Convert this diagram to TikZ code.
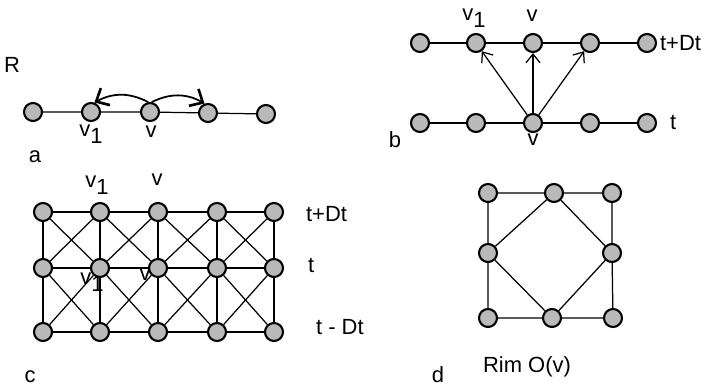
\documentclass[tikz,border=0pt]{standalone}
\usepackage{fontspec}
\setmainfont{Liberation Sans}
\usetikzlibrary{arrows.meta}

\tikzset{
  site/.style={circle,draw,line width=1.2pt,fill=gray!55,minimum size=0.36cm,inner sep=0pt},
  lbl/.style={font=\fontsize{12.5}{14}\selectfont,inner sep=1pt},
  link/.style={line width=0.7pt},
  hop/.style={line width=1pt,-{Straight Barb[length=6pt,width=11pt,line width=1.5pt]}},
}
\newcommand{\vone}{v\raisebox{-0.55ex}{1}}

\begin{document}
\begin{tikzpicture}[x=0.02cm,y=-0.02cm,>={Straight Barb[length=5pt,width=8pt]}]
  \useasboundingbox (0,0) rectangle (708,387);

  % a: one row, moves of v
  \node[lbl] (R) at (12,65) {R};
  \node[site] (a1) at (33,112) {};
  \node[site] (a2) at (91,112) {};
  \node[site] (a3) at (150,112) {};
  \node[site] (a4) at (208,113) {};
  \node[site] (a5) at (266,114) {};
  \draw[link] (a1) -- (a2) -- (a3) -- (a4) -- (a5);
  \draw[hop] (a3.100) to[bend right=28] (a2.70);
  \draw[hop] (a3.80) to[bend left=28] (a4.110);
  \node[lbl] (av1) at (91,134) {\vone};
  \node[lbl] (av) at (151,132) {v};
  \node[lbl] (alab) at (35,157) {a};

  % b: two time rows
  \node[site] (bt1) at (420,43) {};
  \node[site] (bt2) at (476,43) {};
  \node[site] (bt3) at (533,43) {};
  \node[site] (bt4) at (590,43) {};
  \node[site] (bt5) at (647,43) {};
  \node[site] (bb1) at (420,123) {};
  \node[site] (bb2) at (476,123) {};
  \node[site] (bb3) at (533,123) {};
  \node[site] (bb4) at (590,123) {};
  \node[site] (bb5) at (647,123) {};
  \draw[link] (bt1) -- (bt2) -- (bt3) -- (bt4) -- (bt5);
  \draw[link] (bb1) -- (bb2) -- (bb3) -- (bb4) -- (bb5);
  \draw[link,->] (bb3) -- (bt2);
  \draw[link,->] (bb3) -- (bt3);
  \draw[link,->] (bb3) -- (bt4);
  \node[lbl] (bv1) at (474,18) {\vone};
  \node[lbl] (bv) at (532,16) {v};
  \node[lbl] (bvb) at (533,140) {v};
  \node[lbl,anchor=west] (btdt) at (658,43) {t+Dt};
  \node[lbl,anchor=west] (bt) at (668,122) {t};
  \node[lbl] (blab) at (395,140) {b};

  % c: space-time lattice
  \foreach \x [count=\i] in {43,100,158,217,274} {
    \foreach \y [count=\j] in {212,268,332}
      \node[site] (c\i\j) at (\x,\y) {};
  }
  \foreach \i [count=\k from 2] in {1,...,4} {
    \foreach \j in {1,2,3}
      \draw[link] (c\i\j) -- (c\k\j);
  }
  \foreach \i in {1,...,5}
    \draw[link] (c\i1) -- (c\i2) -- (c\i3);
  \foreach \i [count=\k from 2] in {1,...,4} {
    \foreach \j [count=\l from 2] in {1,2} {
      \draw[link] (c\i\j) -- (c\k\l);
      \draw[link] (c\k\j) -- (c\i\l);
    }
  }
  \node[lbl] (cv1) at (97,185) {\vone};
  \node[lbl] (cv) at (157,180) {v};
  \node[lbl] (cv1m) at (92,282) {\vone};
  \node[lbl] (cvm) at (145,275) {v};
  \node[lbl,anchor=west] (ctdt) at (304,214) {t+Dt};
  \node[lbl,anchor=west] (ct) at (306,265) {t};
  \node[lbl,anchor=west] (ctmdt) at (314,327) {t - Dt};
  \node[lbl] (clab) at (30,377) {c};

  % d: rim of v
  \node[site] (d1) at (488,193) {};
  \node[site] (d2) at (554,193) {};
  \node[site] (d3) at (612,193) {};
  \node[site] (d4) at (488,253) {};
  \node[site] (d5) at (612,253) {};
  \node[site] (d6) at (488,318) {};
  \node[site] (d7) at (552,318) {};
  \node[site] (d8) at (613,318) {};
  \draw[link] (d1) -- (d2) -- (d3) -- (d5) -- (d8) -- (d7) -- (d6) -- (d4) -- (d1);
  \draw[link] (d2) -- (d4) -- (d7) -- (d5) -- (d2);
  \node[lbl] (drim) at (527,367) {Rim O(v)};
  \node[lbl] (dlab) at (438,375) {d};
\end{tikzpicture}
\end{document}
